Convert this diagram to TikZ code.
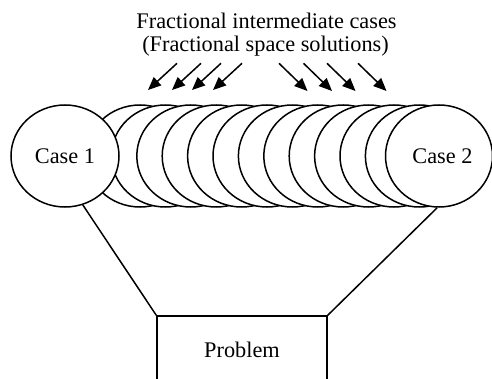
\documentclass[tikz,border=0pt]{standalone}
\usepackage{fontspec}
\setmainfont{Liberation Serif}
\usetikzlibrary{shapes.geometric,arrows.meta}
\begin{document}
\begin{tikzpicture}[x=1pt,y=-1pt,
  lw/.style={line width=1.5pt},
  disk/.style={lw,draw,fill=white,ellipse,inner sep=0pt,minimum width=108pt,minimum height=102pt},
  lbl/.style={font=\fontsize{22.3}{24}\selectfont},
  arr/.style={lw,-{Triangle[length=13pt,width=11pt]}}]
\useasboundingbox (0,0) rectangle (492,379);
\begin{scope}
\clip (0,0) rectangle (492,379);
% title
\node[lbl,anchor=base,inner sep=0pt] (t1) at (266.5,28.3) {Fractional intermediate cases};
\node[lbl,anchor=base,inner sep=0pt] (t2) at (265.5,51.7) {(Fractional space solutions)};
% intermediate disks
\foreach \i in {0,...,11}{
  \node[disk] (f\i) at ({140+25.4*\i},156) {};
}
% end cases
\node[disk,lbl] (c1) at (65,156) {Case 1};
\node[disk,lbl,minimum width=107pt] (c2) at (439,156) {\hspace*{7pt}Case 2};
% problem box
\node[lbl,draw,lw,minimum width=170pt,minimum height=67pt,inner sep=0pt] (pb) at (242,349.5) {Problem};
\draw[lw] (c1.290) -- (pb.north west);
\draw[lw] (c2.268) -- (pb.north east);
% arrows
\foreach \k/\x in {1/177,2/201,3/221,4/242}{
  \coordinate (la\k) at (\x,63.3);
  \coordinate (lb\k) at ({\x-29},90);
  \draw[arr] (la\k) -- (lb\k);
}
\foreach \k/\x in {1/279,2/303.5,3/327,4/358}{
  \coordinate (ra\k) at (\x,63.3);
  \coordinate (rb\k) at ({\x+28.5},91);
  \draw[arr] (ra\k) -- (rb\k);
}
\end{scope}
\end{tikzpicture}
\end{document}
